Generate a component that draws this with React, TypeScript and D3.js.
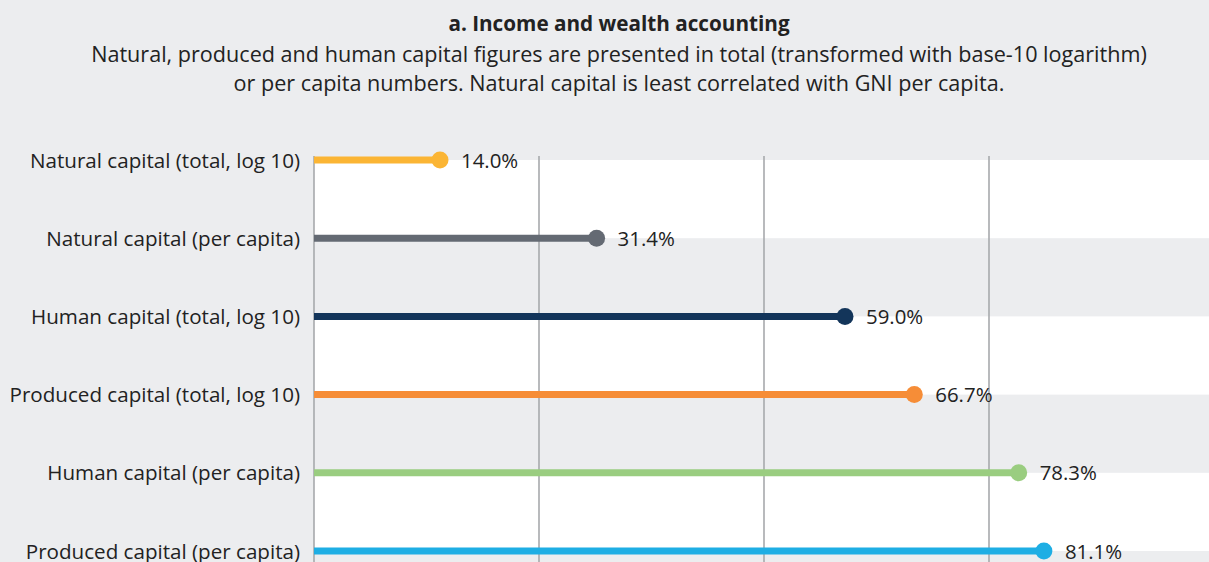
import React from "react";
import * as d3 from "d3";

const categories = [
  "Natural capital (total, log 10)",
  "Natural capital (per capita)",
  "Human capital (total, log 10)",
  "Produced capital (total, log 10)",
  "Human capital (per capita)",
  "Produced capital (per capita)",
];
const correlations = [14.0, 31.4, 59.0, 66.7, 78.3, 81.1];
const colors = ["#fbb534", "#646a73", "#13355a", "#f68d37", "#9acd80", "#1eaee4"];
const gridTicks = [0, 25, 50, 75, 100];

const W = 1209;
const H = 562;
const FONT = "'Open Sans', 'Noto Sans', sans-serif";

export default function App() {
  const x = d3.scaleLinear().domain([0, 100]).range([314, 1214]);
  const y = d3.scalePoint<string>().domain(categories).range([160, 551]);
  const step = y.step();

  return (
    <div style={{ position: "fixed", left: 0, top: 0 }}>
      <svg width={W} height={H} style={{ display: "block" }}>
        <rect width={W} height={H} fill="#ecedef" />
        {/* alternating stripes between row centres */}
        {categories.map((c, i) =>
          i % 2 === 0 ? (
            <rect key={c} x={x(0)} y={y(c)!} width={W - x(0)} height={step} fill="#ffffff" />
          ) : null
        )}
        {gridTicks.map((t) => (
          <line key={t} x1={x(t)} x2={x(t)} y1={156} y2={H} stroke="#a7a9ac" strokeWidth={1.6} />
        ))}

        <text x={619} y={31} textAnchor="middle" fontFamily={FONT} fontWeight={700} fontSize={20.7} fill="#222">
          a. Income and wealth accounting
        </text>
        <text x={619} y={62} textAnchor="middle" fontFamily={FONT} fontSize={21.6} fill="#222">
          Natural, produced and human capital figures are presented in total (transformed with base-10 logarithm)
        </text>
        <text x={619} y={91} textAnchor="middle" fontFamily={FONT} fontSize={21.6} fill="#222">
          or per capita numbers. Natural capital is least correlated with GNI per capita.
        </text>

        {categories.map((c, i) => {
          const cy = y(c)!;
          const cx = x(correlations[i]);
          return (
            <g key={c}>
              <text x={300} y={cy + 7.5} textAnchor="end" fontFamily={FONT} fontSize={20.6} fill="#222">
                {c}
              </text>
              <line x1={x(0)} x2={cx} y1={cy} y2={cy} stroke={colors[i]} strokeWidth={7} />
              <circle cx={cx} cy={cy} r={8.5} fill={colors[i]} />
              <text x={cx + 21} y={cy + 7.5} fontFamily={FONT} fontSize={20.4} fill="#222">
                {d3.format(".1f")(correlations[i])}%
              </text>
            </g>
          );
        })}
      </svg>
    </div>
  );
}
